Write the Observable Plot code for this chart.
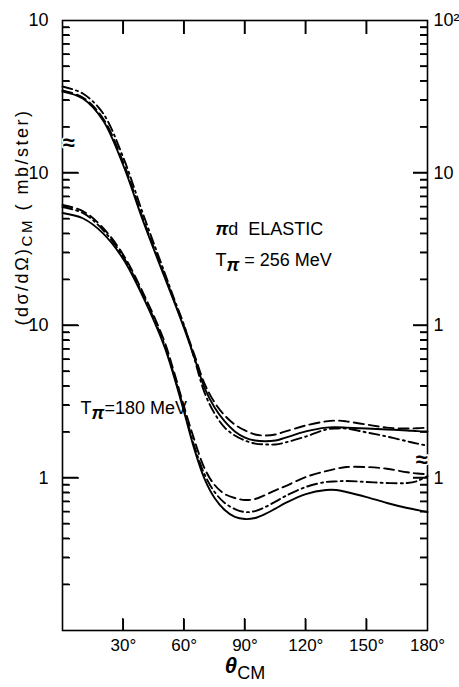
<!DOCTYPE html>
<html><head><meta charset="utf-8">
<script src="https://cdn.jsdelivr.net/npm/d3@7"></script>
<script src="https://cdn.jsdelivr.net/npm/@observablehq/plot@0.6"></script>
<style>html,body{margin:0;padding:0;background:#fff} svg{display:block} text{white-space:pre}</style>
</head><body><div id="chart"></div>
<script>
// Angles (θ_CM, degrees)
const angle = [0,10,20,30,40,50,55,60,65,70,75,80,85,90,95,100,105,110,120,130,135,140,150,160,170,175,180];

// T = 180 MeV curves (left axis, lower scale)
const t180_solid   = [54.7,50.5,40.2,27.2,15.1,7.42,4.62,2.70,1.55,0.99,0.739,0.617,0.555,0.538,0.547,0.581,0.63,0.686,0.785,0.834,0.834,0.810,0.750,0.686,0.636,0.617,0.598];
const t180_dashdot = [59.8,54.7,42.3,28.1,15.6,7.68,4.73,2.79,1.62,1.06,0.81,0.686,0.626,0.598,0.607,0.645,0.70,0.762,0.873,0.942,0.95,0.956,0.942,0.927,0.927,0.956,1.03];
const t180_dashed  = [61.7,56.3,43.6,29.0,16.1,8.03,4.96,2.92,1.78,1.16,0.90,0.785,0.739,0.717,0.728,0.774,0.83,0.886,1.015,1.11,1.15,1.18,1.18,1.15,1.09,1.07,1.06];

// T = 256 MeV curves (right axis scale)
const t256_solid   = [34.2,30.8,22.1,11.2,4.74,2.13,1.44,0.956,0.617,0.392,0.290,0.235,0.202,0.184,0.176,0.174,0.176,0.184,0.202,0.214,0.215,0.214,0.211,0.208,0.205,0.203,0.202];
const t256_dashdot = [36.9,33.2,24.6,12.6,5.26,2.29,1.50,1.0,0.608,0.364,0.265,0.214,0.190,0.176,0.168,0.166,0.166,0.171,0.187,0.208,0.211,0.211,0.199,0.187,0.174,0.168,0.163];
const t256_dashed  = [34.8,31.3,22.8,11.7,4.88,2.19,1.46,0.985,0.645,0.417,0.313,0.257,0.224,0.205,0.193,0.190,0.193,0.202,0.221,0.235,0.238,0.235,0.224,0.214,0.211,0.212,0.214];

// right-axis decade offset relative to left (lower) scale
const rightOffset = 10;

// axis ticks and labels
const xTicks = [30,60,90,120,150,180];
const xInnerTicks = [30,60,90,120,150];
const leftTickValues  = [1, 10, 100, 1000];
const leftTickLabels  = ["1", "10", "10", "10"];
const rightTickValues = [1, 10, 100, 1000];
const rightTickLabels = ["1", "1", "10", "10²"];
const majorLeft  = [1, 10, 100];
const majorRight = [1, 10, 100];
const minorTicks = [0.1, 1, 10, 100].flatMap(d => [2,3,4,5,6,7,8,9].map(m => +(d*m).toPrecision(3)));

// axis breaks (value on unified scale)
const breaksLeft  = [157];
const breaksRight = [1.31];

// annotations
const notes = [
  {angle: 75.4, value: 42.9, text: "πd  ELASTIC"},
  {angle: 75.4, value: 26.9, text: "Tπ = 256 MeV"},
  {angle: 8.9,  value: 2.88, text: "Tπ=180 MeV"}
];

const series = [
  {key: "180s",  values: t180_solid,   factor: 1,           dash: null},
  {key: "180dd", values: t180_dashdot, factor: 1,           dash: "10,4,2,4"},
  {key: "180d",  values: t180_dashed,  factor: 1,           dash: "10,5"},
  {key: "256s",  values: t256_solid,   factor: rightOffset, dash: null},
  {key: "256dd", values: t256_dashdot, factor: rightOffset, dash: "10,4,2,4"},
  {key: "256d",  values: t256_dashed,  factor: rightOffset, dash: "10,5"}
];
const rows = series.flatMap(s => angle.map((a, i) => ({angle: a, value: s.values[i] * s.factor, key: s.key})));

const leftMap = new Map(leftTickValues.map((v, i) => [v, leftTickLabels[i]]));
const rightMap = new Map(rightTickValues.map((v, i) => [v, rightTickLabels[i]]));

const W = 459, H = 687, ML = 62, MR = 32, MT = 20, MB = 57;
const FW = W - ML - MR, FH = H - MT - MB;
const TW = 1.4;

const plot = Plot.plot({
  width: W, height: H,
  marginLeft: ML, marginRight: MR, marginTop: MT, marginBottom: MB,
  x: {domain: [0, 180]},
  y: {type: "log", domain: [0.1, 1000]},
  style: {fontFamily: "Liberation Sans", background: "#fff", color: "#000", overflow: "visible"},
  marks: [
    ...series.map(s => Plot.line(rows.filter(r => r.key === s.key), {
      x: "angle", y: "value", stroke: "#000", strokeWidth: 1.9,
      strokeDasharray: s.dash, curve: "catmull-rom"
    })),
    Plot.frame({stroke: "#000", strokeWidth: 1.6}),
    // inward ticks: axis ticks of the opposite side, shifted across the frame
    Plot.axisY(minorTicks, {anchor: "right", tickSize: 7, dx: -FW, fill: "none", label: null, strokeWidth: TW}),
    Plot.axisY(minorTicks, {anchor: "left", tickSize: 7, dx: FW, fill: "none", label: null, strokeWidth: TW}),
    Plot.axisY(majorLeft, {anchor: "right", tickSize: 16, dx: -FW, fill: "none", label: null, strokeWidth: TW}),
    Plot.axisY(majorRight, {anchor: "left", tickSize: 14, dx: FW, fill: "none", label: null, strokeWidth: TW}),
    Plot.axisX(xInnerTicks, {anchor: "top", tickSize: 12, dy: FH, fill: "none", label: null, strokeWidth: TW}),
    Plot.axisX(xInnerTicks, {anchor: "bottom", tickSize: 14, dy: -FH, fill: "none", label: null, strokeWidth: TW}),
    // tick labels
    Plot.axisY(leftTickValues, {anchor: "left", tickSize: 0, tickPadding: 14, tickFormat: d => leftMap.get(d), fontSize: 18, label: null}),
    Plot.axisY(rightTickValues, {anchor: "right", tickSize: 0, tickPadding: 6, tickFormat: d => rightMap.get(d), fontSize: 18, label: null}),
    Plot.axisX(xTicks, {anchor: "bottom", tickSize: 0, tickPadding: 8, tickFormat: d => d + "°", fontSize: 17, label: null}),
    // axis breaks
    Plot.text(breaksLeft, {y: d => d, frameAnchor: "left", text: d => "≈", fontSize: 22, fontWeight: "bold", stroke: "#fff", strokeWidth: 3, fill: "#000"}),
    Plot.text(breaksRight, {y: d => d, frameAnchor: "right", text: d => "≈", fontSize: 22, fontWeight: "bold", stroke: "#fff", strokeWidth: 3, fill: "#000"}),
    // annotations and titles
    Plot.text(notes, {x: "angle", y: "value", text: "text", textAnchor: "start", fontSize: 18}),
    Plot.text(["(dσ/dΩ)CM ( mb/ster)"], {text: d => d, frameAnchor: "left", dx: -40, rotate: -90, fontSize: 18}),
    Plot.text(["θCM"], {text: d => d, frameAnchor: "bottom", dy: 42, fontSize: 20})
  ]
});

// fallback: same inward ticks as one path, placed with the plot's own scales
try {
  const sx = plot.scale("x"), sy = plot.scale("y");
  const xL = ML, xR = ML + FW, yT = MT, yB = MT + FH;
  let d = "";
  for (const v of minorTicks) { const y = sy.apply(v); d += `M${xL},${y}h7M${xR},${y}h-7`; }
  for (const v of majorLeft) { const y = sy.apply(v); d += `M${xL},${y}h16`; }
  for (const v of majorRight) { const y = sy.apply(v); d += `M${xR},${y}h-14`; }
  for (const v of xInnerTicks) { const x = sx.apply(v); d += `M${x},${yB}v-12M${x},${yT}v14`; }
  const p = document.createElementNS("http://www.w3.org/2000/svg", "path");
  p.setAttribute("d", d);
  p.setAttribute("fill", "none");
  p.setAttribute("stroke", "#000");
  p.setAttribute("stroke-width", TW);
  plot.appendChild(p);
} catch (e) {}

// rich text (subscripts / italics)
const rich = {
  "(dσ/dΩ)CM ( mb/ster)": [["(dσ/dΩ)", 0, null, null], ["CM", 4, 15, null], [" ( mb/ster)", -4, null, null]],
  "θCM": [["θ", 0, 22, "italic"], ["CM", 6, 18, null]],
  "Tπ = 256 MeV": [["T", 0, null, null], ["π", 5, 18, "italic"], [" = 256 MeV", -5, null, null]],
  "Tπ=180 MeV": [["T", 0, null, null], ["π", 5, 18, "italic"], ["=180 MeV", -5, null, null]],
  "πd  ELASTIC": [["π", 0, null, "italic"], ["d  ELASTIC", 0, null, null]]
};
plot.querySelectorAll("text").forEach(node => {
  const key = node.textContent;
  if (!Object.prototype.hasOwnProperty.call(rich, key)) return;
  const sel = d3.select(node);
  sel.text(null);
  for (const [s, dy, size, style] of rich[key]) {
    const t = sel.append("tspan").text(s);
    if (dy) t.attr("dy", dy);
    if (size) t.attr("font-size", size);
    if (style) t.attr("font-style", style).attr("font-weight", "bold");
  }
  if (key.startsWith("(dσ")) sel.attr("letter-spacing", 2.5);
});
document.getElementById("chart").appendChild(plot);
</script>
</body></html>
